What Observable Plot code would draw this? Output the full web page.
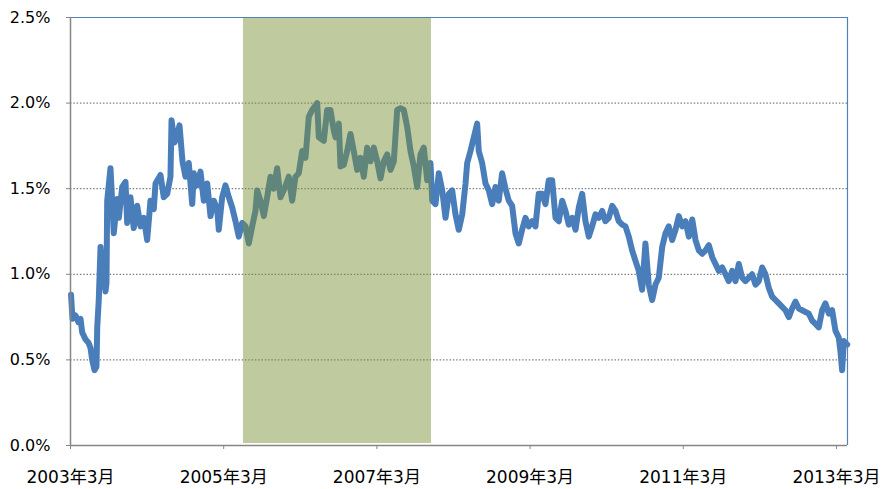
<!DOCTYPE html>
<html><head><meta charset="utf-8">
<script src="https://cdn.jsdelivr.net/npm/d3@7"></script>
<script src="https://cdn.jsdelivr.net/npm/@observablehq/plot@0.6"></script>
<style>body{margin:0;background:#fff} #chart svg{display:block;overflow:visible}</style>
</head><body><div id="chart"></div>
<script>
// decimal year of each observation
const years = [
2003.174,2003.193,2003.232,2003.271,2003.298,2003.320,2003.363,2003.402,2003.428,2003.450,
2003.480,2003.506,2003.516,2003.536,2003.559,2003.581,2003.598,2003.624,2003.637,2003.646,
2003.689,2003.732,2003.777,2003.798,2003.842,2003.885,2003.907,2003.950,2003.993,2004.038,
2004.081,2004.124,2004.168,2004.211,2004.254,2004.277,2004.342,2004.385,2004.429,2004.472,
2004.486,2004.525,2004.551,2004.590,2004.629,2004.668,2004.711,2004.756,2004.777,2004.821,
2004.864,2004.907,2004.952,2004.995,2005.038,2005.082,2005.103,2005.147,2005.190,2005.234,
2005.278,2005.321,2005.364,2005.408,2005.452,2005.495,2005.539,2005.582,2005.604,2005.647,
2005.691,2005.734,2005.778,2005.821,2005.865,2005.908,2005.960,2006.017,2006.061,2006.104,
2006.147,2006.192,2006.235,2006.278,2006.322,2006.388,2006.409,2006.474,2006.518,2006.561,
2006.604,2006.627,2006.670,2006.692,2006.735,2006.779,2006.822,2006.865,2006.910,2006.953,
2006.996,2007.040,2007.084,2007.127,2007.171,2007.214,2007.257,2007.301,2007.345,2007.388,
2007.432,2007.475,2007.518,2007.563,2007.606,2007.649,2007.693,2007.736,2007.779,2007.824,
2007.867,2007.889,2007.932,2007.975,2008.020,2008.063,2008.106,2008.150,2008.193,2008.236,
2008.281,2008.324,2008.346,2008.389,2008.432,2008.476,2008.497,2008.541,2008.585,2008.628,
2008.672,2008.715,2008.758,2008.802,2008.846,2008.889,2008.933,2008.976,2009.019,2009.063,
2009.107,2009.150,2009.194,2009.237,2009.280,2009.325,2009.368,2009.411,2009.455,2009.499,
2009.542,2009.586,2009.629,2009.672,2009.716,2009.760,2009.803,2009.847,2009.890,2009.934,
2009.977,2010.021,2010.064,2010.108,2010.151,2010.194,2010.239,2010.282,2010.325,2010.369,
2010.412,2010.456,2010.499,2010.542,2010.586,2010.630,2010.673,2010.716,2010.761,2010.804,
2010.847,2010.892,2010.935,2010.978,2011.022,2011.066,2011.109,2011.153,2011.196,2011.240,
2011.284,2011.327,2011.370,2011.414,2011.458,2011.501,2011.545,2011.588,2011.631,2011.675,
2011.718,2011.761,2011.805,2011.848,2011.892,2011.936,2011.979,2012.023,2012.066,2012.110,
2012.153,2012.197,2012.240,2012.284,2012.327,2012.371,2012.414,2012.458,2012.501,2012.545,
2012.588,2012.632,2012.675,2012.719,2012.762,2012.806,2012.849,2012.893,2012.936,2012.980,
2013.023,2013.067,2013.110,2013.154,2013.197,2013.219,2013.241,2013.263,2013.307
];
// yield (%)
const yields = [
0.88,0.74,0.76,0.72,0.74,0.66,0.62,0.60,0.57,0.50,
0.44,0.46,0.69,0.85,1.16,1.00,1.02,0.90,0.95,1.43,
1.62,1.24,1.44,1.33,1.51,1.54,1.30,1.45,1.27,1.40,
1.28,1.33,1.20,1.43,1.38,1.53,1.58,1.45,1.47,1.57,
1.90,1.77,1.80,1.87,1.66,1.57,1.65,1.41,1.59,1.52,
1.60,1.43,1.53,1.34,1.43,1.38,1.26,1.45,1.52,1.45,
1.39,1.31,1.22,1.30,1.28,1.18,1.28,1.37,1.49,1.43,
1.34,1.45,1.57,1.50,1.62,1.45,1.50,1.57,1.43,1.57,
1.59,1.72,1.68,1.92,1.96,2.00,1.80,1.78,1.96,1.96,
1.84,1.80,1.88,1.63,1.64,1.72,1.82,1.72,1.61,1.68,
1.57,1.74,1.66,1.74,1.66,1.56,1.66,1.70,1.61,1.66,
1.96,1.97,1.96,1.86,1.72,1.63,1.51,1.70,1.74,1.55,
1.65,1.43,1.41,1.59,1.49,1.33,1.47,1.49,1.35,1.26,
1.35,1.53,1.65,1.72,1.80,1.88,1.72,1.65,1.53,1.49,
1.41,1.51,1.43,1.59,1.50,1.43,1.40,1.24,1.18,1.26,
1.33,1.28,1.31,1.28,1.47,1.47,1.41,1.55,1.55,1.33,
1.31,1.43,1.37,1.29,1.33,1.26,1.39,1.47,1.31,1.22,
1.28,1.35,1.33,1.37,1.31,1.33,1.40,1.37,1.31,1.29,
1.28,1.22,1.14,1.08,1.02,0.91,1.18,0.94,0.85,0.94,
0.98,1.16,1.24,1.28,1.20,1.26,1.34,1.28,1.31,1.22,
1.32,1.20,1.14,1.12,1.14,1.17,1.10,1.06,1.02,1.04,
1.00,0.96,1.02,0.96,1.06,0.98,0.96,0.98,1.00,0.94,
0.96,1.04,1.00,0.92,0.87,0.85,0.83,0.81,0.79,0.75,
0.80,0.84,0.80,0.79,0.78,0.77,0.73,0.71,0.69,0.79,
0.83,0.77,0.79,0.67,0.63,0.55,0.44,0.61,0.59
];
const yTicks = [0, 0.5, 1.0, 1.5, 2.0, 2.5];
const xTickPos = [2003.167, 2005.167, 2007.167, 2009.167, 2011.167, 2013.167];
const xTickLabels = ["2003年3月", "2005年3月", "2007年3月", "2009年3月", "2011年3月", "2013年3月"];
const shadePeriod = [{start: 2005.425, end: 2007.880, lo: 0, hi: 2.5}];
const xDomain = [2003.167, 2013.311];

const data = years.map((t, i) => ({t, v: yields[i]}));

const chart = Plot.plot({
  width: 881, height: 489,
  marginLeft: 70, marginRight: 34, marginTop: 17, marginBottom: 44,
  style: {fontFamily: "'DejaVu Sans','Noto Sans CJK JP',sans-serif", fontSize: "16px", color: "#000", background: "#fff"},
  x: {type: "linear", domain: xDomain},
  y: {domain: [0, 2.5]},
  marks: [
    Plot.ruleY(yTicks.slice(1, -1), {stroke: "#808080", strokeDasharray: "1.5,1.8", strokeWidth: 1.2}),
    Plot.line(data, {x: "t", y: "v", stroke: "#4a7ebb", strokeWidth: 6, strokeLinejoin: "round", strokeLinecap: "round"}),
    Plot.rect(shadePeriod, {x1: "start", x2: "end", y1: "lo", y2: "hi", fill: "#7a8f33", fillOpacity: 0.47, insetBottom: 2}),
    Plot.ruleY([2.5], {stroke: "#4f81bd", strokeWidth: 1.2}),
    Plot.ruleX([xDomain[1]], {stroke: "#4f81bd", strokeWidth: 1.2}),
    Plot.ruleX([xDomain[0]], {stroke: "#868686", strokeWidth: 1.5}),
    Plot.ruleY([0], {stroke: "#868686", strokeWidth: 1.5}),
    Plot.axisY({ticks: yTicks, tickFormat: d => d.toFixed(1) + "%", tickSize: 4, tickPadding: 16, stroke: "#868686", fontSize: 16}),
    Plot.axisX({ticks: xTickPos, tickFormat: d => xTickLabels[xTickPos.indexOf(d)], tickSize: 4, tickPadding: 21, stroke: "#868686", fontSize: 17})
  ]
});
document.getElementById("chart").append(chart);
</script>
</body></html>
